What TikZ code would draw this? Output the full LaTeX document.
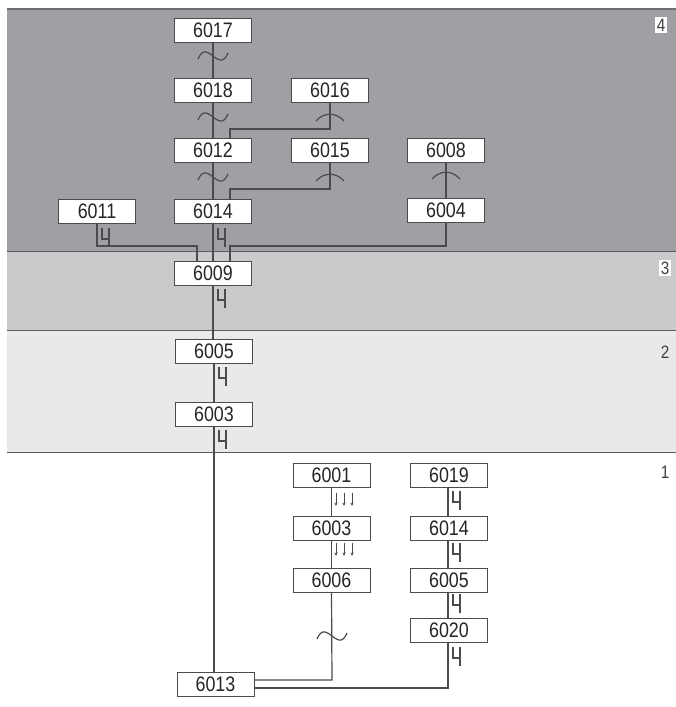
\documentclass[tikz,border=0pt]{standalone}
\usepackage{fontspec}
\setmainfont[FakeStretch=0.85]{Liberation Sans}
\usetikzlibrary{arrows.meta}
\definecolor{bandfour}{RGB}{158,160,163}
\definecolor{bandthree}{RGB}{201,202,204}
\definecolor{bandtwo}{RGB}{232,233,234}
\definecolor{linec}{RGB}{75,75,78}
\tikzset{
  conn/.style={draw=linec, line width=1.2pt},
  symline/.style={draw=linec, line width=1.2pt},
  unit/.style={draw=linec, fill=white, line width=1pt, minimum width=77pt, minimum height=24pt, inner sep=0pt, text=black!85, font=\fontsize{21}{24}\selectfont},
  bandlabel/.style={inner sep=1.5pt, text=black!75, font=\fontsize{18}{20}\selectfont},
  tildesym/.pic={\draw[symline] (-15,3) .. controls (-10,-9) and (-4,-3) .. (0,0) .. controls (4,3) and (10,9) .. (15,-3);},
  archsym/.pic={\draw[symline] (-14,4) .. controls (-6,-5) and (6,-5) .. (14,4);},
  chsym/.pic={\draw[symline] (0,0) -- (0,11) -- (7,11); \draw[symline] (7,0) -- (7,19);},
  arrsym/.pic={\foreach \i in {0,8,16} {\draw[symline, line width=0.9pt, -{Stealth[length=3.5pt,width=3pt]}] (\i,0) -- (\i,13);}}
}
\begin{document}
\begin{tikzpicture}[x=1pt,y=-1pt]
\useasboundingbox (0,0) rectangle (676,707);
\fill[white] (0,0) rectangle (676,707);
% bands
\fill[bandfour] (7,9) rectangle (676,251);
\fill[bandthree] (7,251) rectangle (676,330);
\fill[bandtwo] (7,330) rectangle (676,452);
\draw[linec!80, line width=1.2pt] (7,9) -- (676,9);
\draw[linec!90, line width=1pt] (7,251) -- (676,251);
\draw[linec!90, line width=1pt] (7,330) -- (676,330);
\draw[linec!90, line width=1pt] (7,452) -- (676,452);
\node[bandlabel, fill=white] (l4) at (661,25) {4};
\node[bandlabel, fill=white] (l3) at (665,268) {3};
\node[bandlabel] (l2) at (665,352) {2};
\node[bandlabel] (l1) at (665,472) {1};

% nodes band 4
\node[unit] (n6017) at (213,30) {6017};
\node[unit] (n6018) at (213,90) {6018};
\node[unit] (n6016) at (330,90) {6016};
\node[unit] (n6012) at (213,150) {6012};
\node[unit] (n6015) at (330,150) {6015};
\node[unit] (n6008) at (446,150) {6008};
\node[unit] (n6011) at (97,211) {6011};
\node[unit] (n6014) at (213,211) {6014};
\node[unit] (n6004) at (446,210) {6004};
% band 3, 2
\node[unit] (n6009) at (213,273.5) {6009};
\node[unit] (n6005) at (214,351) {6005};
\node[unit] (n6003) at (214,414) {6003};
% band 1
\node[unit] (m6001) at (331.5,475) {6001};
\node[unit] (m6003) at (331.5,528.5) {6003};
\node[unit] (m6006) at (331.5,580) {6006};
\node[unit] (k6019) at (449,475) {6019};
\node[unit] (k6014) at (449,528.5) {6014};
\node[unit] (k6005) at (449,580) {6005};
\node[unit] (k6020) at (449,630.5) {6020};
\node[unit] (n6013) at (215.5,684.5) {6013};

% coordinates
\coordinate (c16a) at (330,129);
\coordinate (c16b) at (230,129);
\coordinate (c15a) at (330,189);
\coordinate (c15b) at (230,189);
\coordinate (c11a) at (97,246);
\coordinate (c11b) at (197,246);
\coordinate (c04a) at (446,246);
\coordinate (c04b) at (230,246);
\coordinate (c06a) at (332,680);
\coordinate (c20a) at (448,688);

% connectors
\draw[conn] (n6017.south) -- (n6018.north);
\draw[conn] (n6018.south) -- (n6012.north);
\draw[conn] (n6012.south) -- (n6014.north);
\draw[conn] (n6014.south) -- (n6009.north);
\draw[conn] (n6016.south) -- (c16a) -- (c16b) -- (c16b |- n6012.north);
\draw[conn] (n6015.south) -- (c15a) -- (c15b) -- (c15b |- n6014.north);
\draw[conn] (n6008.south) -- (n6004.north);
\draw[conn] (n6011.south) -- (c11a) -- (c11b) -- (c11b |- n6009.north);
\draw[conn] (n6004.south) -- (c04a) -- (c04b) -- (c04b |- n6009.north);
\draw[conn] (n6009.south) -- (n6009.south |- n6005.north);
\draw[conn] (n6005.south) -- (n6003.north);
\draw[conn] (n6003.south) -- (n6003.south |- n6013.north);
\draw[conn] (m6001.south) -- (m6003.north);
\draw[conn] (m6003.south) -- (m6006.north);
\draw[conn] (m6006.south) -- (c06a) -- (c06a -| n6013.east);
\draw[conn] ([xshift=-1pt]k6019.south) -- ([xshift=-1pt]k6014.north);
\draw[conn] ([xshift=-1pt]k6014.south) -- ([xshift=-1pt]k6005.north);
\draw[conn] ([xshift=-1pt]k6005.south) -- ([xshift=-1pt]k6020.north);
\draw[conn] ([xshift=-1pt]k6020.south) -- (c20a) -- (c20a -| n6013.east);

% symbols
\pic at (213,56) {tildesym};
\pic at (213,117) {tildesym};
\pic at (213,177) {tildesym};
\pic at (330,117) {archsym};
\pic at (330,177) {archsym};
\pic at (446,175) {archsym};
\pic at (102,228) {chsym};
\pic at (218,228) {chsym};
\pic at (218,289) {chsym};
\pic at (219,367) {chsym};
\pic at (219,430) {chsym};
\pic at (336,493) {arrsym};
\pic at (336,543) {arrsym};
\pic at (332,636) {tildesym};
\pic at (453,491) {chsym};
\pic at (453,543) {chsym};
\pic at (453,594) {chsym};
\pic at (453,647) {chsym};
\end{tikzpicture}
\end{document}
